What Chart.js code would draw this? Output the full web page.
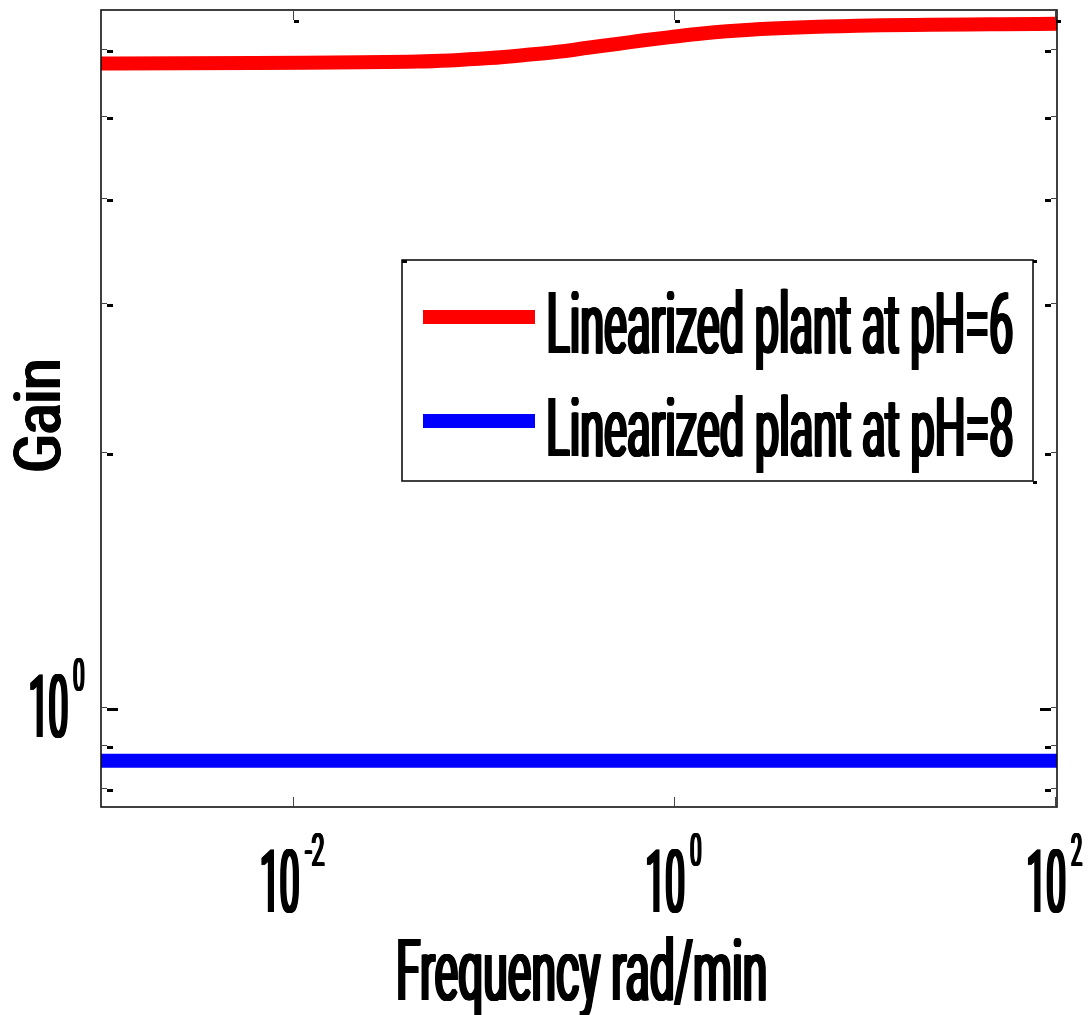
<!DOCTYPE html>
<html>
<head>
<meta charset="utf-8">
<script src="https://cdn.jsdelivr.net/npm/chart.js@4/dist/chart.umd.min.js"></script>
<style>
html,body{margin:0;padding:0;background:#fff;}
#wrap{width:1091px;height:1015px;position:relative;}
</style>
</head>
<body>
<div id="wrap"><canvas id="c" width="1091" height="1015"></canvas></div>
<script>
// ---- data ----
const frequencies = [0.00098, 0.0451, 0.108, 0.175, 0.26, 0.352, 0.50, 0.677, 0.949, 1.40, 2.50, 9.10, 102];
const gainPH6     = [5.772, 5.801, 5.857, 5.913, 5.966, 6.024, 6.085, 6.143, 6.200, 6.262, 6.326, 6.394, 6.430];
const gainPH8     = [0.863, 0.863, 0.863, 0.863, 0.863, 0.863, 0.863, 0.863, 0.863, 0.863, 0.863, 0.863, 0.863];
const seriesLabels = ['Linearized plant at pH=6', 'Linearized plant at pH=8'];
const seriesColors = ['#ff0000', '#0000ff'];
const xTickValues = [0.01, 1, 100];
const xTickExponents = ['-2', '0', '2'];
const yTickValues = [0.8, 0.9, 1, 2, 3, 4, 5, 6];
const yLabelledTicks = [1];
const yTickExponents = ['0'];
const xRange = [0.00098, 102];
const yRange = [0.7606, 6.676];
const xAxisTitle = 'Frequency rad/min';
const yAxisTitle = 'Gain';

const FONT = 'Roboto, "DejaVu Sans", sans-serif';
const WEIGHT = '400';
let capRatio = null;
function getCapRatio(ctx) {
  if (capRatio) return capRatio;
  ctx.save();
  ctx.font = WEIGHT + ' 100px ' + FONT;
  capRatio = ctx.measureText('H').actualBoundingBoxAscent / 100;
  ctx.restore();
  return capRatio;
}
// draws text so that its ink starts at inkLeft, ink width = inkW, cap height = capH
function drawInk(ctx, text, inkLeft, baseline, capH, inkW, rot, thick) {
  const px = capH / getCapRatio(ctx);
  ctx.save();
  ctx.font = WEIGHT + ' ' + px + 'px ' + FONT;
  ctx.textAlign = 'left';
  ctx.textBaseline = 'alphabetic';
  const m = ctx.measureText(text);
  const w = m.actualBoundingBoxLeft + m.actualBoundingBoxRight;
  const extra = thick || 0;
  const sx = (inkW - extra) / w;
  ctx.translate(inkLeft, baseline);
  if (rot) ctx.rotate(rot);
  ctx.fillStyle = '#000';
  for (let k = 0; k <= extra; k += 0.5) {
    ctx.save();
    ctx.translate(k, 0);
    ctx.scale(sx, 1);
    ctx.fillText(text, m.actualBoundingBoxLeft, 0);
    ctx.restore();
  }
  ctx.restore();
}

function drawPowerLabel(ctx, centerX, rightX, baseline, exp) {
  const baseW = 38, gap = 5, expCap = 33, baseCap = 63;
  const expW = exp.length > 1 ? 21 : 12;
  const total = baseW + gap + expW;
  const left = centerX != null ? centerX - total / 2 : rightX - total;
  drawInk(ctx, '10', left, baseline, baseCap, baseW, 0, 3);
  drawInk(ctx, exp, left + baseW + gap, baseline - baseCap + expCap - 16, expCap, expW, 0, 2);
}

const bodePlugin = {
  id: 'bodeDecor',
  afterDatasetsDraw(chart) {
    const ctx = chart.ctx;
    const a = chart.chartArea;
    const xs = chart.scales.x, ys = chart.scales.y;
    ctx.save();
    // frame
    ctx.strokeStyle = '#111';
    ctx.lineWidth = 1.6;
    ctx.strokeRect(a.left, a.top, a.right - a.left, a.bottom - a.top);
    // y ticks (inward, both sides)
    yTickValues.forEach(v => {
      const y = Math.round(ys.getPixelForValue(v)) + 0.5;
      const major = yLabelledTicks.includes(v);
      ctx.strokeStyle = '#444'; ctx.lineWidth = 1;
      ctx.beginPath();
      ctx.moveTo(a.left, y); ctx.lineTo(a.left + 6, y);
      ctx.moveTo(a.right, y); ctx.lineTo(a.right - 6, y);
      ctx.stroke();
      ctx.fillStyle = '#000';
      ctx.fillRect(a.left + 6, y + 0.5, major ? 11 : 6, 3);
      ctx.fillRect(a.right - 6 - (major ? 11 : 6), y + 0.5, major ? 11 : 6, 3);
    });
    // x ticks (inward, top and bottom)
    xTickValues.forEach(v => {
      const x = Math.round(xs.getPixelForValue(v)) + 0.5;
      ctx.strokeStyle = '#444'; ctx.lineWidth = 1;
      ctx.beginPath();
      ctx.moveTo(x, a.top); ctx.lineTo(x, a.top + 10);
      ctx.moveTo(x, a.bottom); ctx.lineTo(x, a.bottom - 10);
      ctx.stroke();
      ctx.fillStyle = '#000';
      ctx.fillRect(x + 0.5, a.top + 10, 5, 3);
    });
    // x tick labels
    xTickValues.forEach((v, i) => {
      drawPowerLabel(ctx, xs.getPixelForValue(v), null, a.bottom + 105, xTickExponents[i]);
    });
    // y tick labels
    yLabelledTicks.forEach((v, i) => {
      drawPowerLabel(ctx, null, a.left - 16, ys.getPixelForValue(v) + 30, yTickExponents[i]);
    });
    // axis titles
    const cx = (a.left + a.right) / 2;
    drawInk(ctx, xAxisTitle, cx - 181, a.bottom + 193, 62, 368, 0, 3);
    const cy = (a.top + a.bottom) / 2;
    drawInk(ctx, yAxisTitle, 60, cy + 63, 47, 111, -Math.PI / 2, 3);
    // legend box
    const lx = a.left + 301, ly = a.top + 250, lw = 631, lh = 221;
    ctx.fillStyle = '#fff';
    ctx.fillRect(lx, ly, lw, lh);
    ctx.strokeStyle = '#111'; ctx.lineWidth = 1.6;
    ctx.strokeRect(lx, ly, lw, lh);
    ctx.fillStyle = '#000';
    ctx.fillRect(lx, ly, 5, 3);
    ctx.fillRect(lx + lw, ly, 4, 3);
    ctx.fillRect(lx + lw, ly + lh, 4, 3);
    seriesLabels.forEach((lab, i) => {
      const rowY = ly + 57 + i * 104;
      ctx.fillStyle = seriesColors[i];
      ctx.fillRect(lx + 21, rowY - 7, 112, 14);
      drawInk(ctx, lab, lx + 146, rowY + 36 - i, 61 - i * 2, 465, 0, 3);
    });
    ctx.restore();
  }
};

new Chart(document.getElementById('c'), {
  type: 'line',
  data: {
    labels: frequencies,
    datasets: [
      { label: seriesLabels[0], data: frequencies.map((f, i) => ({ x: f, y: gainPH6[i] })),
        borderColor: seriesColors[0], backgroundColor: seriesColors[0], borderWidth: 14,
        pointRadius: 0, borderCapStyle: 'butt', cubicInterpolationMode: 'monotone', fill: false },
      { label: seriesLabels[1], data: frequencies.map((f, i) => ({ x: f, y: gainPH8[i] })),
        borderColor: seriesColors[1], backgroundColor: seriesColors[1], borderWidth: 14,
        pointRadius: 0, borderCapStyle: 'butt', fill: false }
    ]
  },
  options: {
    responsive: false,
    animation: false,
    devicePixelRatio: 1,
    layout: { padding: { left: 101, top: 10, right: 34, bottom: 208 } },
    plugins: { legend: { display: false }, tooltip: { enabled: false } },
    scales: {
      x: { type: 'logarithmic', min: xRange[0], max: xRange[1], display: false },
      y: { type: 'logarithmic', min: yRange[0], max: yRange[1], display: false }
    }
  },
  plugins: [bodePlugin]
});
</script>
</body>
</html>
